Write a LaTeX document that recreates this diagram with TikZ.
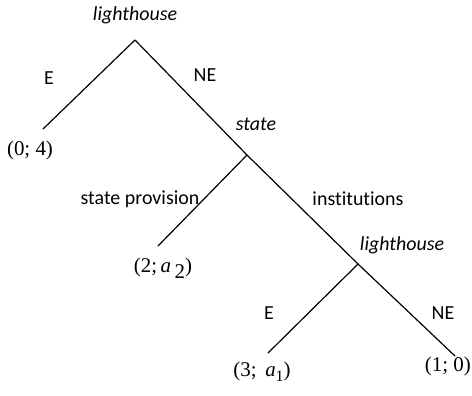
\documentclass[tikz,border=0pt]{standalone}
\usepackage{fontspec}
\setmainfont{Liberation Serif}
\newfontfamily\labfont[Ligatures=NoCommon]{Carlito}
\begin{document}
\begin{tikzpicture}[x=1bp,y=-1bp,
  edge/.style={line width=1.2pt,black},
  lab/.style={font=\labfont\fontsize{20}{24}\selectfont,inner sep=0pt},
  ilab/.style={font=\labfont\itshape\fontsize{20}{24}\selectfont,inner sep=0pt},
  pay/.style={font=\fontsize{21}{24}\selectfont,inner sep=0pt}]
\useasboundingbox (0,0) rectangle (472,395);
\coordinate (r) at (135,40);
\coordinate (s) at (247,155);
\coordinate (l2) at (358,264);
\coordinate (a) at (43,129);
\coordinate (b) at (158,246);
\coordinate (c) at (268,353);
\coordinate (d) at (455,356);
\draw[edge] (r) -- (a);
\draw[edge] (r) -- (s) -- (l2) -- (d);
\draw[edge] (s) -- (b);
\draw[edge] (l2) -- (c);
\node[ilab] (t1) at (135,15) {lighthouse};
\node[lab] (e1) at (49,78) {E};
\node[lab] (n1) at (205,75) {NE};
\node[ilab] (t2) at (256,124) {state};
\node[lab] (sp) at (140,199) {state provision};
\node[lab] (in) at (358,199) {institutions};
\node[ilab] (t3) at (402,245) {lighthouse};
\node[lab] (e2) at (269,313) {E};
\node[lab] (n2) at (443,313) {NE};
\node[pay] (p1) at (30,150) {(0; 4)};
\node[pay] (p2) at (163,268) {(2;\,\textit{a}\,\raisebox{-0.3em}{2})};
\node[pay] (p3) at (262,372) {(3;\, \textit{a}\raisebox{-0.25em}{\fontsize{16}{18}\selectfont 1})};
\node[pay,anchor=east] (p4) at (471,366) {(1; 0)};
\end{tikzpicture}
\end{document}
